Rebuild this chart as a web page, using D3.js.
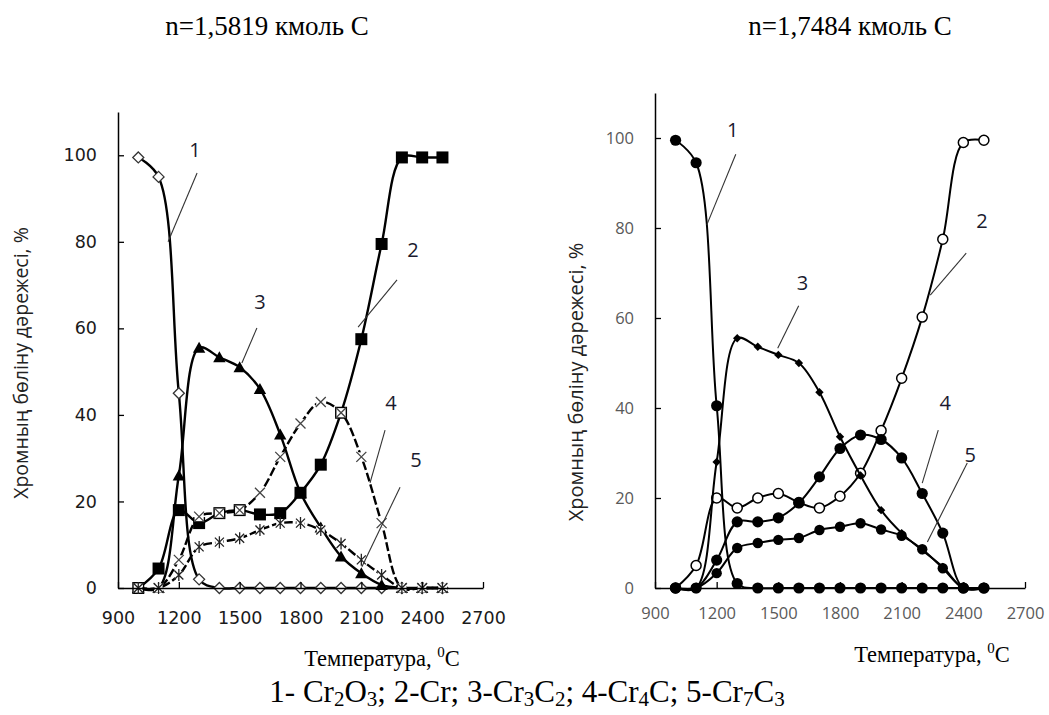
<!DOCTYPE html>
<html>
<head>
<meta charset="utf-8">
<script src="https://cdn.jsdelivr.net/npm/d3@7"></script>
<style>
  body { margin: 0; background: #fff; }
  #chart { width: 1049px; height: 715px; }
</style>
</head>
<body>
<div id="chart"></div>
<script>
// ---------------  DATA  ---------------
const temps = [1000, 1100, 1200, 1300, 1400, 1500, 1600, 1700, 1800, 1900, 2000, 2100, 2200, 2300, 2400, 2500];
const xTicks = [900, 1200, 1500, 1800, 2100, 2400, 2700];
const yTicks = [0, 20, 40, 60, 80, 100];

// left panel : n=1,5819 kmol C
const left_Cr2O3 = [99.5, 95, 45, 2, 0, 0, 0, 0, 0, 0, 0, 0, 0, 0, 0, 0];
const left_Cr = [0, 4.5, 18, 15, 17.3, 18, 17, 17.3, 22, 28.5, 40.5, 57.5, 79.5, 99.5, 99.5, 99.5];
const left_Cr3C2 = [0, 0, 26, 55.5, 53.3, 51, 46, 35.5, 22, 14, 7.3, 3.4, 0.7, 0, 0, 0];
const left_Cr4C = [0, 0, 6.5, 16.5, 17.3, 18, 22, 30.3, 38, 43, 40.5, 30.3, 15, 0, 0, 0];
const left_Cr7C3 = [0, 0, 3, 9.5, 10.6, 11.5, 13.4, 15, 15, 13.4, 10.3, 6.5, 3, 0, 0, 0];

// right panel : n=1,7484 kmol C
const right_Cr2O3 = [99.5, 94.5, 40.5, 1, 0, 0, 0, 0, 0, 0, 0, 0, 0, 0, 0, 0];
const right_Cr = [0, 5, 20, 17.8, 20, 21, 19, 17.8, 20.4, 25.5, 35, 46.6, 60.2, 77.5, 99, 99.5];
const right_Cr3C2 = [0, 0, 28, 55.5, 53.6, 51.8, 50, 43.5, 33.6, 25, 17.3, 12.2, 8.4, 4.7, 0, 0];
const right_Cr4C = [0, 0, 6.2, 14.7, 14.7, 15.6, 18.9, 24.7, 31, 34, 33, 28.9, 21, 12.2, 0, 0];
const right_Cr7C3 = [0, 0, 3.3, 8.9, 10, 10.7, 11.1, 12.9, 13.6, 14.4, 13, 11.6, 8.6, 4.4, 0, 0];

// curve numbers, where they sit and their leader lines (data units)
const noteText = ["1", "2", "3", "4", "5"];
const left_noteAt = [[1280, 99.6], [2355, 76.5], [1600, 64.5], [2246, 41.1], [2370, 28]];
const left_leaders = [[[1290, 95.9], [1147, 80]], [[2276, 71.2], [2084, 60.3]], [[1585, 60.1], [1511, 52]], [[2217, 36.5], [2143, 24.3]], [[2291, 23.3], [2103, 4.9]]];
const right_noteAt = [[1278, 100.2], [2491, 80], [1618, 66.2], [2312, 39.6], [2433, 28]];
const right_leaders = [[[1293, 96.4], [1152, 80.7]], [[2414, 74.4], [2239, 65.1]], [[1599, 62.7], [1497, 53.3]], [[2278, 35.1], [2200, 23.3]], [[2419, 27.8], [2225, 10.2]]];

const titles = ["n=1,5819 кмоль С", "n=1,7484 кмоль С"];
const yTitle = "Хромның бөліну дәрежесі, %";

document.addEventListener("DOMContentLoaded", function () {
  const w = 1049, h = 715;

  const svg = d3.select("#chart").append("svg").attr("width", w).attr("height", h);

  // ------------  MARKERS  ------------
  function marker(g, type, cx, cy) {
    const m = g.append("g").attr("transform", "translate(" + cx + "," + cy + ")");
    if (type == "diamondOpen") {
      m.append("path").attr("d", "M0,-5.5L5.5,0L0,5.5L-5.5,0Z")
        .attr("fill", "#fff").attr("stroke", "#333").attr("stroke-width", 1.3);
    } else if (type == "square") {
      m.append("rect").attr("x", -6).attr("y", -6).attr("width", 12).attr("height", 12).attr("fill", "#000");
    } else if (type == "triangle") {
      m.append("path").attr("d", "M0,-6L6.2,5L-6.2,5Z").attr("fill", "#000");
    } else if (type == "xBox") {
      m.append("rect").attr("x", -4.6).attr("y", -4.6).attr("width", 9.2).attr("height", 9.2).attr("fill", "#fff");
      m.append("path").attr("d", "M-5,-5L5,5M5,-5L-5,5").attr("stroke", "#444").attr("stroke-width", 1.3);
    } else if (type == "star") {
      m.append("rect").attr("x", -4).attr("y", -4).attr("width", 8).attr("height", 8).attr("fill", "#fff");
      m.append("path").attr("d", "M-4.5,-4.5L4.5,4.5M4.5,-4.5L-4.5,4.5M0,-6L0,6")
        .attr("stroke", "#222").attr("stroke-width", 1.3);
    } else if (type == "dot") {
      m.append("circle").attr("r", 5.6).attr("fill", "#000");
    } else if (type == "dotSmall") {
      m.append("circle").attr("r", 5.2).attr("fill", "#000");
    } else if (type == "circleOpen") {
      m.append("circle").attr("r", 5).attr("fill", "#fff").attr("stroke", "#000").attr("stroke-width", 1.5);
    } else if (type == "diamondSmall") {
      m.append("path").attr("d", "M0,-4.2L4.2,0L0,4.2L-4.2,0Z").attr("fill", "#000");
    }
  }

  // ------------  PANEL  ------------
  function panel(cfg) {
    const x = d3.scaleLinear().domain([900, 2700]).range(cfg.xRange);
    const y = d3.scaleLinear().domain([0, 110]).range(cfg.yRange);
    const g = svg.append("g");

    // series lines and markers, one series after the other (like Excel)
    cfg.series.forEach(function (vals, s) {
      const pts = temps.map((t, i) => ({ t: t, v: vals[i] }));
      const line = d3.line()
        .x((d) => x(d.t))
        .y((d) => y(d.v))
        .curve(d3.curveCatmullRom.alpha(0.5));
      g.append("path")
        .attr("d", line(pts))
        .attr("fill", "none")
        .attr("stroke", "#000")
        .attr("stroke-width", cfg.lineWidth)
        .attr("stroke-dasharray", cfg.dashes[s]);
      pts.forEach((d) => marker(g, cfg.markers[s], x(d.t), y(d.v)));
    });

    // axes (ticks pointing inside)
    const yAxis = g.append("g")
      .attr("transform", "translate(" + cfg.xRange[0] + ",0)")
      .call(d3.axisLeft(y).tickValues(yTicks).tickSizeInner(-6).tickSizeOuter(0).tickPadding(cfg.yPad));
    const xAxis = g.append("g")
      .attr("transform", "translate(0," + cfg.yRange[0] + ")")
      .call(d3.axisBottom(x).tickValues(xTicks).tickFormat(d3.format("d"))
        .tickSizeInner(-6).tickSizeOuter(0).tickPadding(cfg.xPad));
    [yAxis, xAxis].forEach(function (a) {
      a.select(".domain").attr("stroke", "#000").attr("stroke-width", 1.5);
      a.selectAll(".tick line").attr("stroke", "#000").attr("stroke-width", 1.3);
      a.selectAll("text")
        .attr("fill", cfg.tickColor)
        .style("font-family", cfg.tickFont)
        .style("font-size", cfg.tickSize + "px");
    });

    // curve numbers with leader lines
    cfg.leaders.forEach(function (seg) {
      g.append("line")
        .attr("x1", x(seg[0][0])).attr("y1", y(seg[0][1]))
        .attr("x2", x(seg[1][0])).attr("y2", y(seg[1][1]))
        .attr("stroke", "#333").attr("stroke-width", 1.1);
    });
    cfg.noteAt.forEach(function (p, i) {
      g.append("text")
        .attr("x", x(p[0])).attr("y", y(p[1]))
        .attr("text-anchor", "middle")
        .style("font-family", "'Open Sans', sans-serif")
        .style("font-size", "20px")
        .attr("fill", "#1a1a2e")
        .text(noteText[i]);
    });

    // titles
    svg.append("text")
      .attr("x", cfg.titleX).attr("y", 35)
      .attr("text-anchor", "middle")
      .style("font-family", "'Liberation Serif', serif")
      .style("font-size", "27px")
      .text(cfg.title);

    const xt = svg.append("text")
      .attr("x", cfg.xTitleX).attr("y", cfg.xTitleY)
      .attr("text-anchor", "middle")
      .style("font-family", "'Liberation Serif', serif")
      .style("font-size", "22.5px");
    xt.append("tspan").text("Температура, ");
    xt.append("tspan").attr("dy", -9).style("font-size", "15px").text("0");
    xt.append("tspan").attr("dy", 9).text("С");

    svg.append("text")
      .attr("transform", "translate(" + cfg.yTitleX + "," + cfg.yTitleY + ") rotate(-90)")
      .attr("text-anchor", "middle")
      .style("font-family", "'Open Sans', sans-serif")
      .style("font-size", cfg.yTitleSize + "px")
      .attr("fill", "#222")
      .text(yTitle);
  }

  panel({
    title: titles[0], titleX: 267,
    xRange: [118, 483], yRange: [588, 112],
    series: [left_Cr2O3, left_Cr, left_Cr3C2, left_Cr4C, left_Cr7C3],
    markers: ["diamondOpen", "square", "triangle", "xBox", "star"],
    dashes: [null, null, null, "9,3", "9,3"],
    lineWidth: 2.4,
    yPad: 21, xPad: 24,
    tickColor: "#1a1a1a", tickFont: "'DejaVu Sans', sans-serif", tickSize: 17.5,
    noteAt: left_noteAt, leaders: left_leaders,
    xTitleX: 382, xTitleY: 666,
    yTitleX: 28, yTitleY: 363, yTitleSize: 19.5
  });

  panel({
    title: titles[1], titleX: 850,
    xRange: [655, 1025], yRange: [588, 93],
    series: [right_Cr2O3, right_Cr, right_Cr3C2, right_Cr4C, right_Cr7C3],
    markers: ["dot", "circleOpen", "diamondSmall", "dot", "dotSmall"],
    dashes: [null, null, null, null, null],
    lineWidth: 2,
    yPad: 21, xPad: 19,
    tickColor: "#595959", tickFont: "'Open Sans', sans-serif", tickSize: 16.5,
    noteAt: right_noteAt, leaders: right_leaders,
    xTitleX: 932, xTitleY: 662,
    yTitleX: 583, yTitleY: 382, yTitleSize: 20
  });

  // ------------  CAPTION  ------------
  const cap = svg.append("text")
    .attr("x", 527).attr("y", 702)
    .attr("text-anchor", "middle")
    .style("font-family", "'Liberation Serif', serif")
    .style("font-size", "31px");
  const parts = [["1- Cr", 0], ["2", 1], ["O", 0], ["3", 1], ["; 2-Cr; 3-Cr", 0], ["3", 1], ["C", 0], ["2", 1],
    ["; 4-Cr", 0], ["4", 1], ["C; 5-Cr", 0], ["7", 1], ["C", 0], ["3", 1]];
  let prevSub = 0;
  parts.forEach(function (p) {
    const shift = p[1] == 1 && prevSub == 0 ? 4 : (p[1] == 0 && prevSub == 1 ? -4 : 0);
    cap.append("tspan")
      .attr("dy", shift)
      .style("font-size", p[1] == 1 ? "21px" : "31px")
      .text(p[0]);
    prevSub = p[1];
  });
});
</script>
</body>
</html>
